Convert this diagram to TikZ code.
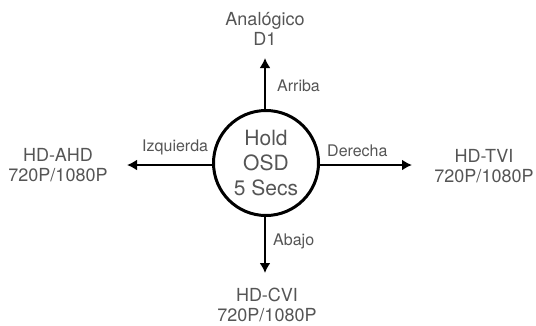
\documentclass[tikz,border=0pt]{standalone}
\usepackage{fontspec}
\setmainfont{TeX Gyre Heros}
\usepackage{tikz}
\usetikzlibrary{arrows.meta}
\usepackage{xcolor}
\definecolor{txtgray}{HTML}{555555}

\begin{document}
\begin{tikzpicture}[x=1pt,y=-1pt,
  outer/.style={text=txtgray,align=center,font=\fontsize{18}{20.5}\selectfont},
  dirlabel/.style={text=txtgray,anchor=west,inner sep=0pt,font=\fontsize{16}{18}\selectfont}]
\useasboundingbox (0,0) rectangle (536,325);
\node[circle,draw,line width=3pt,minimum size=105pt,inner sep=0pt,
  text=txtgray,align=center,font=\fontsize{21}{25}\selectfont] (osd) at (266,163) {Hold\\OSD\\5 Secs};
% destinations
\node[outer] (analog) at (265,29) {Anal\'ogico\\D1};
\node[outer] (ahd) at (58,165) {HD-AHD\\720P/1080P};
\node[outer] (tvi) at (484,166) {HD-TVI\\720P/1080P};
\node[outer] (cvi) at (267,305) {HD-CVI\\720P/1080P};
% arrow ends
\coordinate (upend) at (265,58);
\coordinate (leftend) at (127,165);
\coordinate (rightend) at (412,165);
\coordinate (downend) at (265,273);
\draw [->,line width=2pt,>={Latex[length=10pt,width=11pt]}] (osd.north -| upend)--(upend);
\draw [->,line width=2pt,>={Latex[length=10pt,width=11pt]}] (osd.west |- leftend)--(leftend);
\draw [->,line width=2pt,>={Latex[length=10pt,width=11pt]}] (osd.east |- rightend)--(rightend);
\draw [->,line width=2pt,>={Latex[length=10pt,width=11pt]}] (osd.south -| downend)--(downend);
\node[dirlabel] (arriba) at (277,86) {Arriba};
\node[dirlabel] (izq) at (142,147) {Izquierda};
\node[dirlabel] (der) at (327,151) {Derecha};
\node[dirlabel] (abajo) at (273,241) {Abajo};
\end{tikzpicture}
\end{document}
